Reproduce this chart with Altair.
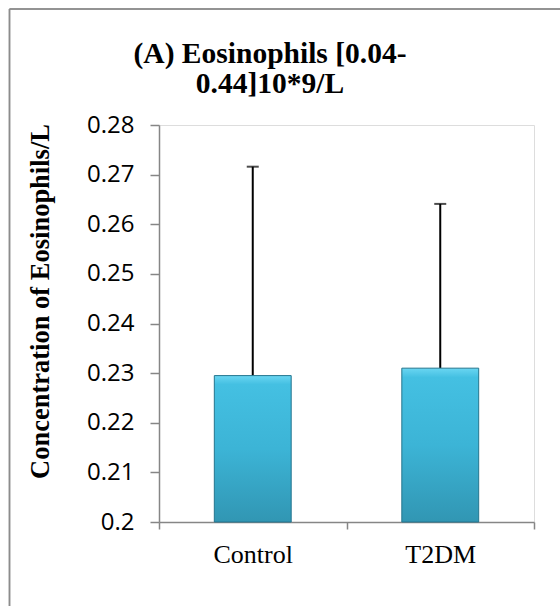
import altair as alt
import pandas as pd

groups = ["Control", "T2DM"]
means = [0.2295, 0.2310]
uppers = [0.2716, 0.2641]
y_ticks = [0.20, 0.21, 0.22, 0.23, 0.24, 0.25, 0.26, 0.27, 0.28]
title_lines = ["(A) Eosinophils [0.04-", "0.44]10*9/L"]
y_title = "Concentration of Eosinophils/L"

df = pd.DataFrame({"group": groups, "mean": means, "upper": uppers})

AX = "#868686"

x_enc = alt.X(
    "group:N",
    sort=groups,
    scale=alt.Scale(paddingInner=0, paddingOuter=0),
    axis=alt.Axis(
        title=None,
        labelAngle=0,
        labelFont="Liberation Serif",
        labelFontSize=26,
        labelColor="#000000",
        labelPadding=12,
        labelBaseline="top",
        tickBand="extent",
        tickSize=7,
        tickColor=AX,
        domainColor=AX,
        tickWidth=1.5,
        domainWidth=1.5,
    ),
)

y_scale = alt.Scale(domain=[0.2, 0.28], nice=False, zero=False)
y_axis = alt.Axis(
    values=y_ticks,
    format="~g",
    title=y_title,
    titleFont="Liberation Serif",
    titleFontSize=26.5,
    titleFontWeight="bold",
    titleColor="#000000",
    titleAngle=270,
    titleAlign="center",
    titleBaseline="alphabetic",
    titleX=-111,
    titleY=176,
    labelFont="Open Sans",
    labelFontSize=24,
    labelColor="#000000",
    labelPadding=16,
    tickSize=9,
    tickColor=AX,
    domainColor=AX,
    tickWidth=1.5,
    domainWidth=1.5,
    grid=False,
)

bar_fill = alt.Gradient(
    gradient="linear",
    stops=[
        alt.GradientStop(color="#6AD6F2", offset=0),
        alt.GradientStop(color="#44C0E2", offset=0.06),
        alt.GradientStop(color="#3CB4D6", offset=0.5),
        alt.GradientStop(color="#3196B3", offset=1),
    ],
    x1=0, x2=0, y1=0, y2=1,
)

base = alt.Chart(df)

whisker = base.mark_rule(color="#000000", strokeWidth=2).encode(
    x=x_enc,
    y=alt.Y("mean:Q", scale=y_scale, axis=y_axis),
    y2="upper:Q",
)

cap = base.mark_tick(color="#000000", size=12, thickness=2).encode(
    x=alt.X("group:N", sort=groups),
    y=alt.Y("upper:Q", scale=y_scale),
)

bars = base.mark_bar(
    width=alt.RelativeBandSize(0.41),
    fill=bar_fill,
    stroke="#24758E",
    strokeWidth=1,
).encode(
    x=alt.X("group:N", sort=groups),
    y=alt.Y("mean:Q", scale=y_scale),
    y2=alt.datum(0.2),
)

title = alt.Chart(df.head(1)).mark_text(
    font="Liberation Serif",
    fontSize=29.5,
    fontWeight="bold",
    color="#000000",
    align="center",
    baseline="alphabetic",
    lineHeight=30,
).encode(
    x=alt.value(111),
    y=alt.value(-62),
    text=alt.value(title_lines),
)

border = alt.Chart(df).mark_rule(color="#8C8C8C", strokeWidth=1.5).encode(
    x=alt.value(-149.5), x2=alt.value(-149.5),
    y=alt.value(-116), y2=alt.value(500),
)
border_top = alt.Chart(df).mark_rule(color="#8C8C8C", strokeWidth=1.5).encode(
    x=alt.value(-149.5), x2=alt.value(500),
    y=alt.value(-116), y2=alt.value(-116),
)

chart = alt.layer(whisker, cap, bars, title, border, border_top).properties(
    width=375,
    height=397,
    padding={"left": 159, "top": 125, "right": 26, "bottom": 84},
    autosize=alt.AutoSizeParams(type="none"),
).configure_view(stroke=None).configure(background="#FFFFFF")

chart.save("out.html", embed_options={"renderer": "svg", "actions": False})
